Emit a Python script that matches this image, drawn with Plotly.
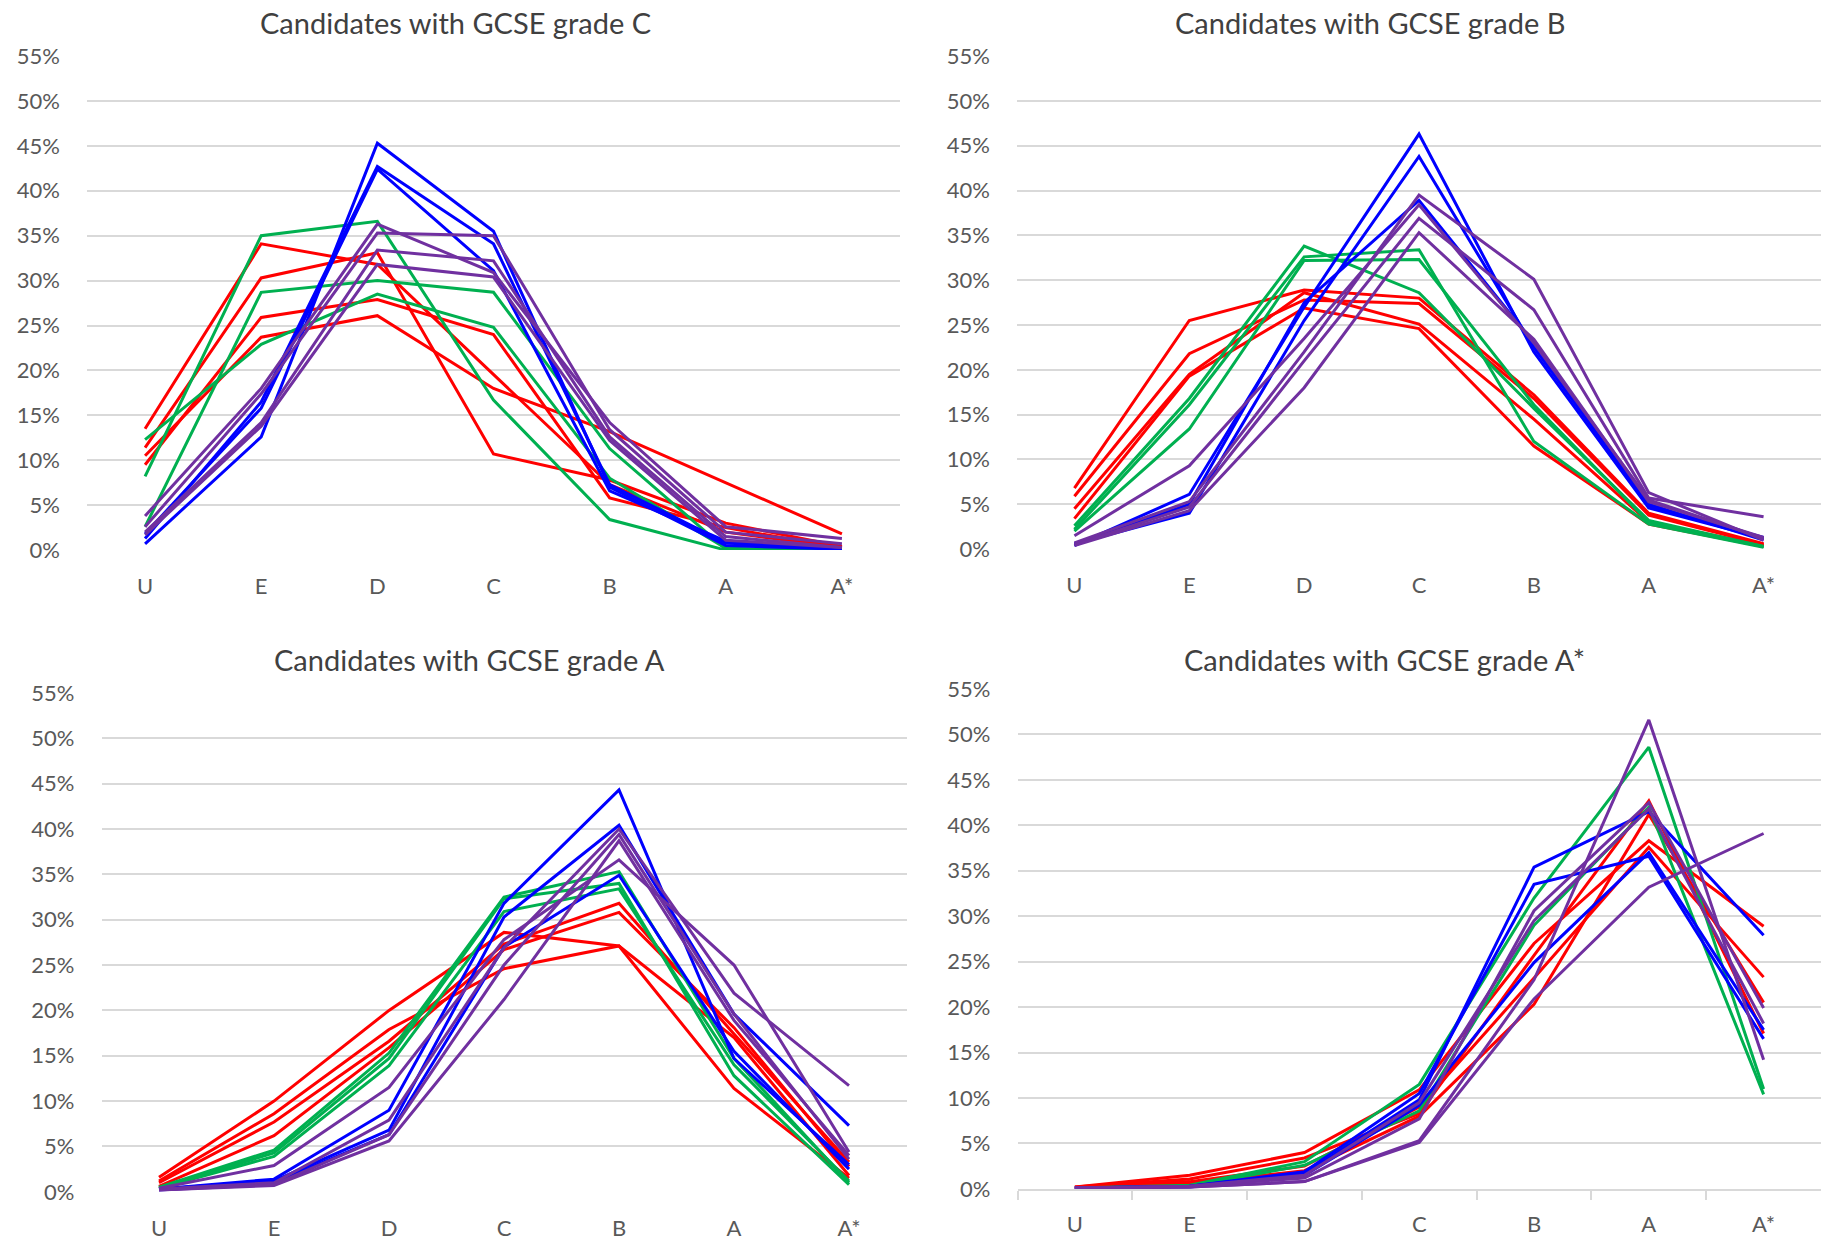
import plotly.graph_objects as go

# A-level grade categories on the x axis
grades = ["U", "E", "D", "C", "B", "A", "A*"]
y_ticks = list(range(0, 60, 5))

# Share of candidates (%) achieving each A-level grade, one row per cohort line.
# --- Candidates with GCSE grade C ---
gcse_c_red = [
    [13.5, 34.1, 31.8, 19.5, 7.3, 2.0, 0.3],
    [11.4, 30.3, 33.1, 10.7, 7.8, 3.0, 0.4],
    [9.5, 25.9, 27.9, 24.0, 5.8, 2.5, 0.2],
    [10.5, 23.7, 26.1, 18.0, 13.2, 7.5, 1.8],
]
gcse_c_green = [
    [8.2, 35.0, 36.6, 16.7, 3.4, 0.0, 0.0],
    [2.6, 28.7, 30.0, 28.7, 11.3, 0.1, 0.0],
    [12.3, 22.9, 28.5, 24.8, 8.0, 0.2, 0.0],
]
gcse_c_blue = [
    [0.7, 12.6, 45.3, 35.5, 7.0, 0.5, 0.1],
    [1.3, 16.5, 42.7, 34.1, 7.3, 0.8, 0.1],
    [1.8, 15.8, 42.4, 31.1, 6.6, 1.0, 0.2],
]
gcse_c_purple = [
    [3.8, 18.0, 36.3, 30.9, 14.2, 2.6, 1.3],
    [2.6, 17.4, 35.3, 35.0, 13.4, 2.0, 0.7],
    [2.0, 14.2, 33.4, 32.2, 12.6, 1.5, 0.3],
    [1.7, 13.8, 31.8, 30.4, 12.2, 1.1, 0.3],
]

# --- Candidates with GCSE grade B ---
gcse_b_red = [
    [6.8, 25.5, 28.9, 28.0, 17.2, 4.0, 0.6],
    [5.9, 21.8, 27.8, 27.4, 16.8, 3.8, 0.5],
    [4.5, 19.5, 28.6, 25.1, 14.5, 3.0, 0.4],
    [3.4, 19.3, 26.9, 24.6, 11.5, 2.8, 0.3],
]
gcse_b_green = [
    [2.6, 16.8, 33.8, 28.6, 15.7, 3.2, 0.3],
    [2.2, 16.1, 32.6, 33.4, 12.0, 2.8, 0.2],
    [2.0, 13.4, 32.2, 32.3, 16.1, 3.0, 0.3],
]
gcse_b_blue = [
    [0.4, 6.1, 27.0, 46.3, 22.0, 4.6, 1.2],
    [0.6, 4.0, 25.5, 43.8, 22.5, 5.0, 1.0],
    [0.5, 5.0, 27.5, 38.9, 23.0, 4.8, 1.3],
]
gcse_b_purple = [
    [1.5, 9.3, 23.5, 38.4, 23.0, 5.5, 1.2],
    [0.7, 5.3, 22.0, 39.5, 30.1, 6.3, 1.0],
    [0.5, 4.7, 21.0, 36.9, 26.7, 5.7, 3.6],
    [0.4, 4.3, 18.0, 35.3, 23.4, 5.3, 1.3],
]

# --- Candidates with GCSE grade A ---
gcse_a_red = [
    [1.6, 10.0, 20.0, 28.6, 27.1, 17.0, 1.8],
    [1.2, 8.6, 17.9, 24.6, 27.1, 11.4, 1.5],
    [1.0, 7.7, 16.6, 27.3, 31.8, 17.4, 3.3],
    [0.6, 6.2, 15.9, 26.7, 30.8, 18.1, 2.8],
]
gcse_a_green = [
    [0.5, 4.6, 15.3, 32.5, 35.3, 14.7, 1.0],
    [0.4, 4.3, 14.7, 32.3, 34.0, 12.8, 0.8],
    [0.4, 3.9, 13.9, 30.9, 33.4, 14.0, 1.2],
]
gcse_a_blue = [
    [0.3, 1.4, 9.0, 31.8, 44.3, 14.7, 3.0],
    [0.3, 1.2, 6.8, 30.3, 40.4, 19.6, 7.3],
    [0.2, 1.0, 6.3, 27.0, 34.9, 15.5, 2.5],
]
gcse_a_purple = [
    [0.4, 2.9, 11.5, 27.8, 36.6, 25.0, 4.4],
    [0.3, 1.0, 7.9, 26.9, 40.0, 21.9, 11.7],
    [0.2, 0.8, 6.3, 25.0, 39.4, 19.6, 3.6],
    [0.2, 0.7, 5.6, 21.2, 38.7, 18.9, 4.0],
]

# --- Candidates with GCSE grade A* ---
gcse_astar_red = [
    [0.2, 1.5, 4.0, 10.9, 27.0, 38.3, 28.9],
    [0.2, 1.1, 3.4, 8.3, 25.7, 42.7, 17.1],
    [0.1, 0.8, 2.5, 9.0, 23.2, 37.6, 23.3],
    [0.1, 0.6, 2.0, 8.0, 20.3, 41.2, 20.5],
]
gcse_astar_green = [
    [0.1, 0.4, 3.0, 11.5, 32.0, 48.6, 11.0],
    [0.1, 0.3, 2.6, 8.6, 29.0, 42.0, 10.4],
]
gcse_astar_blue = [
    [0.1, 0.3, 1.7, 9.8, 35.4, 41.5, 27.9],
    [0.1, 0.3, 1.9, 10.5, 33.5, 36.6, 16.5],
    [0.1, 0.2, 1.5, 9.2, 24.9, 37.0, 17.5],
]
gcse_astar_purple = [
    [0.1, 0.2, 0.8, 5.3, 23.0, 51.6, 14.2],
    [0.1, 0.2, 0.8, 5.1, 20.9, 33.2, 39.1],
    [0.1, 0.3, 1.2, 7.7, 30.6, 42.5, 19.9],
    [0.1, 0.3, 1.5, 9.5, 29.5, 41.8, 18.2],
]

RED, GREEN, BLUE, PURPLE = "#FF0000", "#00B050", "#0000FF", "#7030A0"

W, H = 1821, 1242
FONT = "Lato"
TEXT = "#595959"
GRID = "#D9D9D9"

# panel: title, series groups, x-domain px, y px of 0% and 55%, title centre px
panels = [
    ("Candidates with GCSE grade C",
     [(gcse_c_red, RED), (gcse_c_green, GREEN), (gcse_c_blue, BLUE), (gcse_c_purple, PURPLE)],
     (87, 900), (548, 43), (455, 9), False),
    ("Candidates with GCSE grade B",
     [(gcse_b_red, RED), (gcse_b_green, GREEN), (gcse_b_blue, BLUE), (gcse_b_purple, PURPLE)],
     (1017, 1821), (547, 43), (1370, 9), False),
    ("Candidates with GCSE grade A",
     [(gcse_a_red, RED), (gcse_a_green, GREEN), (gcse_a_blue, BLUE), (gcse_a_purple, PURPLE)],
     (101.5, 906.5), (1204, 694), (469, 660), False),
    ("Candidates with GCSE grade A*",
     [(gcse_astar_red, RED), (gcse_astar_green, GREEN), (gcse_astar_blue, BLUE), (gcse_astar_purple, PURPLE)],
     (1017.5, 1821), (1201, 690), (1384, 660), True),
]

fig = go.Figure()
layout = {}
annotations = []

for i, (title, groups, (x0, x1), (y_zero, y_top), (tx, ty), boundary_ticks) in enumerate(panels, start=1):
    xa = "x" if i == 1 else f"x{i}"
    ya = "y" if i == 1 else f"y{i}"
    for rows, color in groups:
        for row in rows:
            fig.add_trace(go.Scatter(
                x=grades, y=row, mode="lines", xaxis=xa, yaxis=ya,
                line=dict(color=color, width=3), showlegend=False,
                hoverinfo="skip",
            ))
    xkey = "xaxis" if i == 1 else f"xaxis{i}"
    ykey = "yaxis" if i == 1 else f"yaxis{i}"
    xaxis = dict(
        domain=[x0 / W, min(x1 / W, 1.0)],
        anchor=ya, type="category", categoryorder="array", categoryarray=grades,
        range=[-0.5, 6.5], showgrid=False, zeroline=False, showline=False,
        tickfont=dict(family=FONT, size=22, color=TEXT),
        ticklabelstandoff=21, fixedrange=True,
    )
    if boundary_ticks:
        xaxis.update(tickson="boundaries", ticks="outside", ticklen=9,
                     tickwidth=1.5, tickcolor=GRID, showline=True,
                     linecolor=GRID, linewidth=1.5, ticklabelstandoff=15)
    else:
        xaxis.update(ticks="")
    layout[xkey] = xaxis
    layout[ykey] = dict(
        domain=[1 - y_zero / H, 1 - y_top / H], anchor=xa,
        range=[0, 55], tickvals=y_ticks, ticktext=[f"{v}%" for v in y_ticks],
        showgrid=True, gridcolor=GRID, gridwidth=2, zeroline=False,
        showline=False, ticks="",
        tickfont=dict(family=FONT, size=22, color=TEXT),
        ticklabelstandoff=26, fixedrange=True,
    )
    annotations.append(dict(
        text=title, x=tx / W, y=1 - ty / H, xref="paper", yref="paper",
        xanchor="center", yanchor="middle", showarrow=False,
        font=dict(family=FONT, size=29, color="#404040"),
    ))

fig.update_layout(
    width=W, height=H, margin=dict(l=0, r=0, t=0, b=0),
    paper_bgcolor="white", plot_bgcolor="white",
    annotations=annotations, **layout,
)

fig.write_html("out.html")
